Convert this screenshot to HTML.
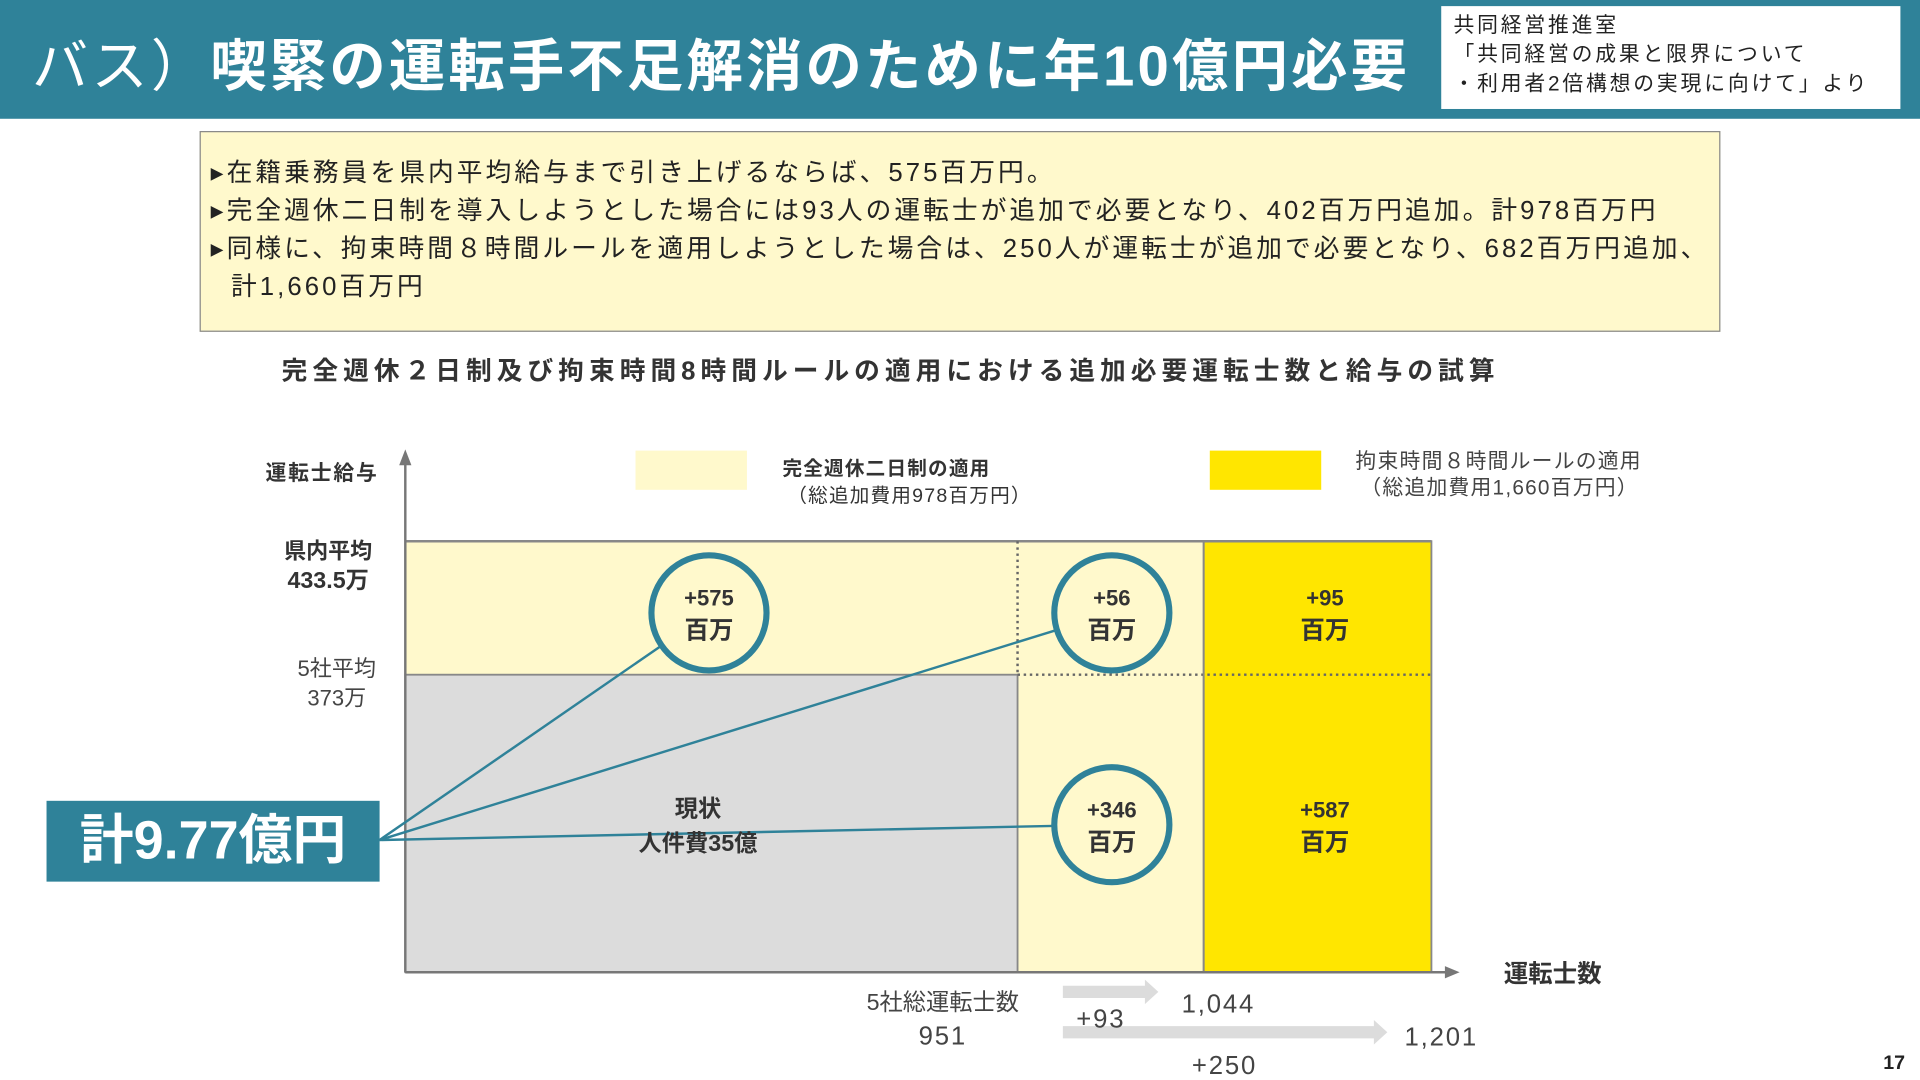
<!DOCTYPE html>
<html><head><meta charset="utf-8"><style>
html,body{margin:0;padding:0;width:1920px;height:1080px;overflow:hidden;background:#fff}
#wrap{position:absolute;left:0;top:0;width:1568px;height:882px;transform:scale(1.22449);transform-origin:0 0;font-family:"Liberation Sans","Noto Sans CJK JP",sans-serif;color:#333}
.t{position:absolute;white-space:nowrap}
</style></head><body><div id="wrap">
<div class="t" style="left:0;top:0;width:1568px;height:97px;background:#2F8299"></div>
<div class="t" style="left:26px;top:18px;font-size:46px;font-weight:bold;color:#fff;letter-spacing:2.6px"><span style="font-weight:normal">バス）</span>喫緊の運転手不足解消のために年10億円必要</div>
<div class="t" style="left:1177px;top:5px;width:375px;height:84px;background:#fff;font-size:17px;line-height:24px;color:#222;padding:4px 0 0 10px;box-sizing:border-box;letter-spacing:2.3px">共同経営推進室<br>「共同経営の成果と限界について<br>・利用者2倍構想の実現に向けて」より</div>
<div class="t" style="left:163px;top:107px;width:1242px;height:164px;background:#FFF9CC;border:1.5px solid #888;box-sizing:border-box;font-size:21px;line-height:31px;color:#222;padding:18px 0 0 8px;white-space:normal;letter-spacing:2.5px">
<div>▸在籍乗務員を県内平均給与まで引き上げるならば、575百万円。</div>
<div>▸完全週休二日制を導入しようとした場合には93人の運転士が追加で必要となり、402百万円追加。計978百万円</div>
<div>▸同様に、拘束時間８時間ルールを適用しようとした場合は、250人が運転士が追加で必要となり、682百万円追加、<br>&nbsp;&nbsp;計1,660百万円</div></div>
<div class="t" style="left:230px;top:287px;font-size:21px;font-weight:bold;color:#333;letter-spacing:4.1px">完全週休２日制及び拘束時間8時間ルールの適用における追加必要運転士数と給与の試算</div>
<svg id="chart" width="1568" height="882" style="position:absolute;left:0;top:0"></svg>
<div class="t" style="left:38px;top:654px;width:272px;height:66px;background:#2F8299;color:#fff;font-size:44px;font-weight:bold;line-height:66px;text-align:center">計9.77億円</div>
<div class="t" style="left:1538px;top:860px;font-size:16px;font-weight:bold;color:#222">17</div>
</div>
<script>
const drivers=[951,1044,1201];
const salaries=[373,433.5];
const addCosts=['+575','+56','+346'];
const ruleCosts=['+95','+587'];
const driverLabels=['951','1,044','1,201'];
const addDrivers=['+93','+250'];
const salaryLabels=[['5社平均','373万'],['県内平均','433.5万']];
function xs(v){const d=[0,951,1044,1201],r=[331,831,983,1169];for(let i=1;i<d.length;i++){if(v<=d[i]||i==d.length-1){return r[i-1]+(v-d[i-1])/(d[i]-d[i-1])*(r[i]-r[i-1]);}}}
function ys(v){const d=[0,373,433.5],r=[794,551,442];for(let i=1;i<d.length;i++){if(v<=d[i]||i==d.length-1){return r[i-1]+(v-d[i-1])/(d[i]-d[i-1])*(r[i]-r[i-1]);}}}
const svg=document.getElementById('chart');const NS='http://www.w3.org/2000/svg';
function mk(tag,a,txt){const e=document.createElementNS(NS,tag);for(const k in a)e.setAttribute(k,a[k]);if(txt!=null)e.textContent=txt;svg.appendChild(e);return e;}
const X0=xs(0),Y0=ys(0),Xa=xs(drivers[0]),Xb=xs(drivers[1]),Xc=xs(drivers[2]),Ya=ys(salaries[0]),Yb=ys(salaries[1]);
let e;
e=mk('rect',{x:X0,y:Yb,width:Xb-X0,height:Y0-Yb,fill:'#FFF9CC'});
e=mk('rect',{x:X0,y:Ya,width:Xa-X0,height:Y0-Ya,fill:'#DCDCDC',stroke:'#888','stroke-width':1.5});
e=mk('rect',{x:Xb,y:Yb,width:Xc-Xb,height:Y0-Yb,fill:'#FFE600',stroke:'#888','stroke-width':1.5});
e=mk('line',{x1:X0,y1:Yb,x2:Xc,y2:Yb,stroke:'#888','stroke-width':2});
e=mk('line',{x1:Xa,y1:Ya,x2:Xc,y2:Ya,stroke:'#666','stroke-width':2,'stroke-dasharray':'2,3'});
e=mk('line',{x1:Xa,y1:Yb,x2:Xa,y2:Ya,stroke:'#666','stroke-width':2,'stroke-dasharray':'2,3'});
e=mk('line',{x1:Xb,y1:Yb,x2:Xb,y2:Y0,stroke:'#888','stroke-width':1.5});
e=mk('line',{x1:X0,y1:Y0,x2:1184,y2:Y0,stroke:'#777','stroke-width':2});
e=mk('polygon',{points:'1192,794 1180,789 1180,799',fill:'#777'});
e=mk('line',{x1:X0,y1:Y0,x2:X0,y2:376,stroke:'#777','stroke-width':2});
e=mk('polygon',{points:'331,367 326,380 336,380',fill:'#777'});
e=mk('text',{x:263,y:392,'font-size':17,'font-weight':'bold','text-anchor':'middle',fill:'#333','letter-spacing':1.5},'運転士給与');
e=mk('text',{x:1268,y:802,'font-size':20,'font-weight':'bold','text-anchor':'middle',fill:'#333'},'運転士数');
e=mk('text',{x:268,y:456,'font-size':18,'font-weight':'bold','text-anchor':'middle',fill:'#333'},salaryLabels[1][0]);
e=mk('text',{x:268,y:480,'font-size':19,'font-weight':'bold','text-anchor':'middle',fill:'#333'},salaryLabels[1][1]);
e=mk('text',{x:275,y:552,'font-size':18,'text-anchor':'middle',fill:'#444'},salaryLabels[0][0]);
e=mk('text',{x:275,y:576,'font-size':18,'text-anchor':'middle',fill:'#444'},salaryLabels[0][1]);
e=mk('rect',{x:519,y:368,width:91,height:32,fill:'#FFF9CC'});
e=mk('text',{x:639,y:388,'font-size':16,'font-weight':'bold',fill:'#333','letter-spacing':1},'完全週休二日制の適用');
e=mk('text',{x:643,y:410,'font-size':16,fill:'#333','letter-spacing':1},'（総追加費用978百万円）');
e=mk('rect',{x:988,y:368,width:91,height:32,fill:'#FFE600'});
e=mk('text',{x:1107,y:382,'font-size':17,fill:'#444','letter-spacing':1},'拘束時間８時間ルールの適用');
e=mk('text',{x:1111,y:404,'font-size':17,fill:'#444','letter-spacing':1},'（総追加費用1,660百万円）');
const cx=[(X0+Xa)/2-2,(Xa+Xb)/2+1,(Xa+Xb)/2+1];
const cy=[(Yb+Ya)/2+4,(Yb+Ya)/2+4,(Ya+Y0)/2+1];
const origin=[310,686];
for(let i=0;i<3;i++){
 const dx=cx[i]-origin[0],dy=cy[i]-origin[1],L=Math.hypot(dx,dy);
 e=mk('line',{x1:origin[0],y1:origin[1],x2:cx[i]-dx/L*48,y2:cy[i]-dy/L*48,stroke:'#2F8299','stroke-width':2});
 e=mk('circle',{cx:cx[i],cy:cy[i],r:47,fill:'#FFF9CC',stroke:'#2F8299','stroke-width':5});
 e=mk('text',{x:cx[i],y:cy[i]-6,'font-size':18,'font-weight':'bold','text-anchor':'middle',fill:'#333'},addCosts[i]);
 e=mk('text',{x:cx[i],y:cy[i]+21,'font-size':20,'font-weight':'bold','text-anchor':'middle',fill:'#333'},'百万');
}
const ry=[cy[0],cy[2]];
for(let i=0;i<2;i++){
 e=mk('text',{x:(Xb+Xc)/2+6,y:ry[i]-6,'font-size':18,'font-weight':'bold','text-anchor':'middle',fill:'#333'},ruleCosts[i]);
 e=mk('text',{x:(Xb+Xc)/2+6,y:ry[i]+21,'font-size':20,'font-weight':'bold','text-anchor':'middle',fill:'#333'},'百万');
}
e=mk('text',{x:(X0+Xa)/2-11,y:667,'font-size':19,'font-weight':'bold','text-anchor':'middle',fill:'#333'},'現状');
e=mk('text',{x:(X0+Xa)/2-11,y:695,'font-size':19,'font-weight':'bold','text-anchor':'middle',fill:'#333'},'人件費35億');
e=mk('text',{x:770,y:825,'font-size':19,'text-anchor':'middle',fill:'#444'},'5社総運転士数');
e=mk('text',{x:770,y:853,'font-size':21,'text-anchor':'middle',fill:'#444','letter-spacing':1.5},driverLabels[0]);
e=mk('polygon',{points:'868,805 935,805 935,800 946,810 935,820 935,815 868,815',fill:'#DCDCDC'});
e=mk('polygon',{points:'868,838 1122,838 1122,833 1133,843 1122,853 1122,848 868,848',fill:'#DCDCDC'});
e=mk('text',{x:899,y:839,'font-size':21,'text-anchor':'middle',fill:'#444','letter-spacing':1.5},addDrivers[0]);
e=mk('text',{x:1000,y:877,'font-size':21,'text-anchor':'middle',fill:'#444','letter-spacing':1.5},addDrivers[1]);
e=mk('text',{x:Xb+12,y:827,'font-size':21,'text-anchor':'middle',fill:'#444','letter-spacing':1.5},driverLabels[1]);
e=mk('text',{x:Xc+8,y:854,'font-size':21,'text-anchor':'middle',fill:'#444','letter-spacing':1.5},driverLabels[2]);
</script></body></html>
